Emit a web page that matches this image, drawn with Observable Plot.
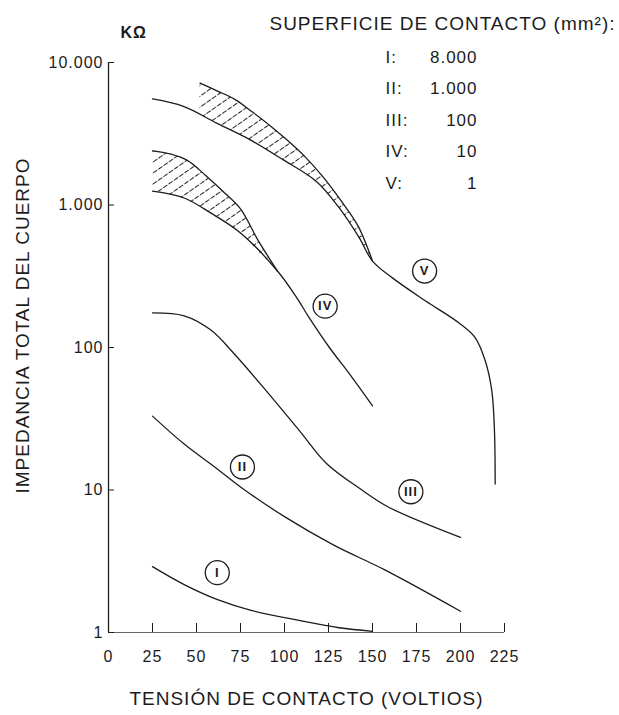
<!DOCTYPE html>
<html><head><meta charset="utf-8">
<script src="https://cdn.jsdelivr.net/npm/d3@7"></script>
<script src="https://cdn.jsdelivr.net/npm/@observablehq/plot@0.6"></script>
<style>body{margin:0;background:#fff} svg{display:block}</style>
</head><body><div id="chart"></div>
<script>
// ---- data ----
const xTicks = [0, 25, 50, 75, 100, 125, 150, 175, 200, 225];
const yTicks = [1, 10, 100, 1000, 10000];

const curveI   = [[25,2.9],[43,2.17],[62,1.7],[81,1.43],[109,1.21],[131,1.08],[150,1.02]];
const curveII  = [[25,33],[43,21],[62,14],[76,10.3],[100,6.5],[128,4.1],[157,2.75],[200,1.41]];
const curveIII = [[25,175],[43,167],[58,133],[71,91.5],[90,49],[109,25.6],[124,15.3],[143,10.2],[159,7.6],[200,4.65]];
const curveIV  = [[25,1250],[43,1120],[58,880],[75,637],[96,344],[107,223],[114,162],[125.5,100],[137,65],[150,39]];
const curveV   = [[25,5550],[42.6,4920],[61.4,3755],[80.3,2875],[99.1,2081],[118,1467],[131.1,954],[142.5,588],[150,404],[161.3,308],[180.2,212],[199,149],[208.4,117],[214.1,80.4],[217.8,49.6],[219.3,26],[219.7,11]];

const bandVX  = [52, 62, 72, 82, 92, 102, 112, 122, 132, 142, 150];
const bandVHi = [7160, 6300, 5490, 4470, 3590, 2820, 2160, 1570, 1077, 705, 404];
const bandVLo = [4300, 3720, 3235, 2790, 2350, 1970, 1637, 1285, 916, 600, 404];

const bandIVX  = [25, 35, 45, 55, 65, 75, 85, 96];
const bandIVHi = [2400, 2280, 2050, 1620, 1250, 940, 565, 344];
const bandIVLo = [1250, 1190, 1077, 918, 765, 630, 474, 344];

const labelNames = ["I", "II", "III", "IV", "V"];
const labelX = [61.8, 76.1, 171.8, 123.1, 179.6];
const labelY = [2.63, 14.5, 9.72, 195, 344];

const legendTitle = "SUPERFICIE DE CONTACTO (mm²):";
const legendAreas = [8000, 1000, 100, 10, 1];
const xTitle = "TENSIÓN DE CONTACTO (VOLTIOS)";
const yTitle = "IMPEDANCIA TOTAL DEL CUERPO";
const unitTitle = "KΩ";

// ---- derived tables ----
const fmt = d3.formatLocale({decimal: ",", thousands: ".", grouping: [3], currency: ["", ""]}).format(",d");
const toRows = (pts, name) => pts.map(([x, y]) => ({x, y, name}));
const band = (xs, lo, hi) => xs.map((x, i) => ({x, lo: lo[i], hi: hi[i]}));
const bandV = band(bandVX, bandVLo, bandVHi);
const bandIV = band(bandIVX, bandIVLo, bandIVHi);
const curves = [
  ...toRows(curveI, "I"), ...toRows(curveII, "II"), ...toRows(curveIII, "III"),
  ...toRows(curveIV, "IV"), ...toRows(curveV, "V"),
  ...bandVX.map((x, i) => ({x, y: bandVHi[i], name: "Vhi"})),
  ...bandIVX.map((x, i) => ({x, y: bandIVHi[i], name: "IVhi"}))
];
const labels = labelNames.map((name, i) => ({name, x: labelX[i], y: labelY[i]}));

const W = 619, H = 715, ML = 108, MR = 115, MT = 62, MB = 83;
const frameW = W - ML - MR, frameH = H - MT - MB;
const ink = "#1c1c1c";

const chart = Plot.plot({
  width: W, height: H,
  marginLeft: ML, marginRight: MR, marginTop: MT, marginBottom: MB,
  style: {fontFamily: "'Liberation Sans', Arial, sans-serif", color: ink, background: "#fff", letterSpacing: "1px"},
  x: {domain: [0, 225]},
  y: {type: "log", domain: [1, 10000]},
  marks: [
    Plot.areaY(bandV, {x: "x", y1: "lo", y2: "hi", fill: "url(#hatch)", curve: "catmull-rom"}),
    Plot.areaY(bandIV, {x: "x", y1: "lo", y2: "hi", fill: "url(#hatch)", curve: "catmull-rom"}),
    Plot.ruleX([0], {stroke: ink, strokeWidth: 1.3}),
    Plot.ruleY([1], {x1: 0, x2: 225, stroke: "#666", strokeWidth: 1}),
    Plot.tickY(yTicks, {y: d => d, insetRight: frameW - 6, stroke: ink}),
    Plot.tickX(xTicks.filter(d => d > 0), {x: d => d, insetTop: frameH - 9, stroke: ink}),
    Plot.axisY(yTicks, {tickSize: 0, tickPadding: 5, tickFormat: fmt, fontSize: 16, label: null}),
    Plot.axisX(xTicks, {tickSize: 0, tickPadding: 18, fontSize: 16, label: null}),
    Plot.line(curves, {x: "x", y: "y", z: "name", curve: "catmull-rom", stroke: ink, strokeWidth: 1.3}),
    Plot.dot(labels, {x: "x", y: "y", r: 12, stroke: ink, strokeWidth: 1.3, fill: "white"}),
    Plot.text(labels, {x: "x", y: "y", text: "name", fontSize: 13, fontWeight: "bold", fill: ink}),
    Plot.text([unitTitle], {frameAnchor: "top-left", dx: 12, dy: -36, textAnchor: "start", fontSize: 16, fontWeight: "bold"}),
    Plot.text([legendTitle], {frameAnchor: "top-right", dx: 111, dy: -46, textAnchor: "end", fontSize: 19}),
    Plot.text([labelNames.map(d => d + ":").join("\n")], {frameAnchor: "top-left", dx: 277, dy: -22, textAnchor: "start", lineAnchor: "top", lineHeight: 1.85, fontSize: 17}),
    Plot.text([legendAreas.map(fmt).join("\n")], {frameAnchor: "top-left", dx: 369, dy: -22, textAnchor: "end", lineAnchor: "top", lineHeight: 1.85, fontSize: 17}),
    Plot.text([xTitle], {frameAnchor: "bottom", dy: 72, fontSize: 19}),
    Plot.text([yTitle], {frameAnchor: "left", rotate: -90, dx: -86, dy: -22, textAnchor: "middle", fontSize: 19})
  ]
});

const defs = d3.select(chart).insert("defs", ":first-child");
const pat = defs.append("pattern").attr("id", "hatch").attr("patternUnits", "userSpaceOnUse")
  .attr("width", 26).attr("height", 9).attr("patternTransform", "rotate(-35)");
pat.append("line").attr("x1", 0).attr("x2", 26).attr("y1", 4.5).attr("y2", 4.5)
  .attr("stroke", "#222").attr("stroke-width", 1.1).attr("stroke-dasharray", "5 1.5");

document.getElementById("chart").appendChild(chart);
</script></body></html>
